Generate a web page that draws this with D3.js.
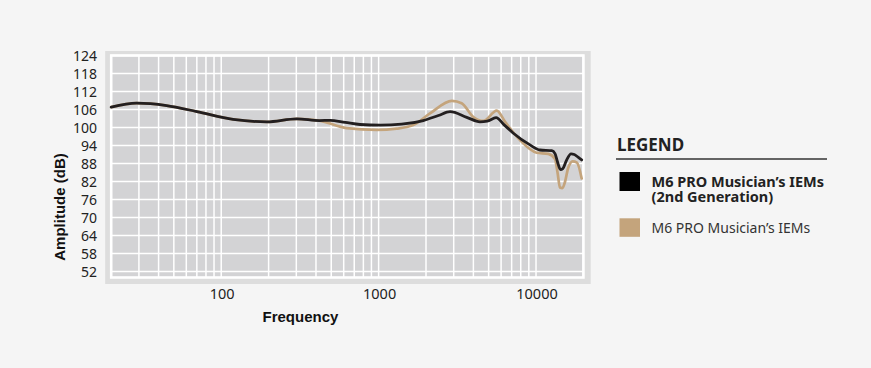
<!DOCTYPE html>
<html>
<head>
<meta charset="utf-8">
<script src="https://cdn.jsdelivr.net/npm/d3@7/dist/d3.min.js"></script>
<style>
  html, body { margin: 0; padding: 0; background: #f5f5f5; }
  svg { display: block; }
</style>
</head>
<body>
<svg id="chart" width="871" height="368"></svg>
<script>
// ---- data ----
const seriesNames = ["M6 PRO Musician\u2019s IEMs (2nd Generation)", "M6 PRO Musician\u2019s IEMs"];
const gen2Freq = [20, 29, 45, 70, 119, 195, 302, 420, 491, 614, 762, 1026, 1400, 1923, 2400, 2846, 3630, 4406, 4900, 5570, 6300, 7180, 9160, 10600, 12600, 13200, 13700, 14300, 14800, 15600, 16700, 17500, 18500, 19500];
const gen2Db   = [106.8, 108.1, 107.3, 105.3, 102.7, 101.9, 102.9, 102.3, 102.4, 101.7, 101.0, 100.8, 101.1, 102.3, 104.0, 105.3, 103.4, 101.9, 102.1, 103.3, 100.8, 98.1, 94.2, 92.5, 92.3, 91.3, 88.5, 86.0, 86.3, 89.0, 91.2, 91.0, 90.1, 89.2];
const origFreq = [20, 29, 45, 70, 119, 195, 302, 420, 627, 973, 1300, 1660, 2120, 2920, 3370, 3980, 4630, 5630, 6360, 7910, 10090, 11970, 13200, 13700, 14200, 14700, 15300, 16000, 17100, 18200, 19500];
const origDb   = [106.8, 108.1, 107.3, 105.3, 102.7, 101.9, 102.9, 102.3, 99.8, 99.2, 99.6, 100.8, 104.7, 108.9, 108.1, 103.6, 102.2, 105.6, 101.9, 95.8, 91.6, 91.2, 89.5, 85.0, 80.0, 79.8, 82.0, 86.5, 88.7, 88.3, 83.0];
const yTicks = [52, 58, 64, 70, 76, 82, 88, 94, 100, 106, 112, 118, 124];
const xTickLabels = [100, 1000, 10000];
const xGrid = [20, 30, 40, 50, 60, 70, 80, 90, 100, 200, 300, 400, 500, 600, 700, 800, 900, 1000, 2000, 3000, 4000, 5000, 6000, 7000, 8000, 9000, 10000, 20000];

// ---- layout ----
const svg = d3.select("#chart");
const x = d3.scaleLog().domain([20, 20000]).range([111.2, 583.4]);
const y = d3.scaleLinear().domain([50, 124]).range([277.5, 55.5]);

const frameColor = "#dddddd";
const plotColor = "#d3d3d5";

// outer frame
svg.append("rect")
  .attr("x", x(20) - 6).attr("y", y(124) - 4.5)
  .attr("width", x(20000) - x(20) + 13.3)
  .attr("height", y(50) - y(124) + 11)
  .attr("fill", frameColor);

// plot area
svg.append("rect")
  .attr("x", x(20)).attr("y", y(124))
  .attr("width", x(20000) - x(20))
  .attr("height", y(50) - y(124))
  .attr("fill", plotColor);

// grid
const grid = svg.append("g");
grid.selectAll("line.v").data(xGrid).join("line")
  .attr("x1", d => x(d)).attr("x2", d => x(d))
  .attr("y1", y(124)).attr("y2", y(50))
  .attr("stroke", "#fff").attr("stroke-width", 1.5);
grid.selectAll("line.h").data(yTicks).join("line")
  .attr("x1", x(20)).attr("x2", x(20000))
  .attr("y1", d => y(d)).attr("y2", d => y(d))
  .attr("stroke", "#fff").attr("stroke-width", 1.5);
// white border
svg.append("rect")
  .attr("x", x(20)).attr("y", y(124))
  .attr("width", x(20000) - x(20))
  .attr("height", y(50) - y(124))
  .attr("fill", "none").attr("stroke", "#fff").attr("stroke-width", 2.6);

// y axis labels
const yAxis = d3.axisLeft(y).tickValues(yTicks).tickSize(0).tickPadding(0).tickFormat(d3.format("d"));
const yg = svg.append("g").attr("transform", "translate(97,0)").call(yAxis);
yg.select(".domain").remove();
yg.selectAll("text")
  .attr("font-family", "'Noto Sans', sans-serif")
  .attr("font-size", 14).attr("fill", "#222").attr("dy", "0.36em");

// x axis labels
const xAxis = d3.axisBottom(x).tickValues(xTickLabels).tickSize(0).tickPadding(0).tickFormat(d3.format("d"));
const xg = svg.append("g").attr("transform", "translate(0.5,289)").call(xAxis);
xg.select(".domain").remove();
xg.selectAll("text")
  .attr("font-family", "'Noto Sans', sans-serif")
  .attr("font-size", 14.5).attr("fill", "#222");

// axis titles
svg.append("text")
  .attr("x", 300.4).attr("y", 322)
  .attr("text-anchor", "middle")
  .attr("font-family", "'Liberation Sans', Arial, sans-serif")
  .attr("font-weight", "bold").attr("font-size", 15).attr("fill", "#111")
  .text("Frequency");
svg.append("text")
  .attr("transform", "translate(64.5,207) rotate(-90)")
  .attr("text-anchor", "middle")
  .attr("font-family", "'Liberation Sans', Arial, sans-serif")
  .attr("font-weight", "bold").attr("font-size", 15).attr("fill", "#111")
  .text("Amplitude (dB)");

// lines
const line = d3.line().x(d => x(d[0])).y(d => y(d[1])).curve(d3.curveMonotoneX);
const origData = d3.zip(origFreq, origDb);
const gen2Data = d3.zip(gen2Freq, gen2Db);
svg.append("path").datum(origData).attr("d", line)
  .attr("fill", "none").attr("stroke", "#c4a47c").attr("stroke-width", 2.7)
  .attr("stroke-linejoin", "round").attr("stroke-linecap", "round");
svg.append("path").datum(gen2Data).attr("d", line)
  .attr("fill", "none").attr("stroke", "#231f20").attr("stroke-width", 2.8)
  .attr("stroke-linejoin", "round").attr("stroke-linecap", "round");

// legend
const lg = svg.append("g");
lg.append("text").attr("x", 617).attr("y", 150.5)
  .attr("font-family", "'Noto Sans', sans-serif").attr("font-weight", "bold")
  .attr("font-size", 17).attr("fill", "#222").text("LEGEND");
lg.append("line").attr("x1", 616).attr("x2", 827).attr("y1", 159).attr("y2", 159)
  .attr("stroke", "#333").attr("stroke-width", 1.5);
lg.append("rect").attr("x", 619.5).attr("y", 172).attr("width", 20.5).attr("height", 19).attr("fill", "#000");
lg.append("rect").attr("x", 619.5).attr("y", 218.3).attr("width", 20.5).attr("height", 18.5).attr("fill", "#c4a47c");
const t1 = lg.append("text").attr("font-family", "'Noto Sans', sans-serif").attr("font-weight", "bold")
  .attr("font-size", 14.5).attr("fill", "#222");
t1.append("tspan").attr("x", 651.5).attr("y", 187).text("M6 PRO Musician\u2019s IEMs");
t1.append("tspan").attr("x", 651.5).attr("y", 201.5).text("(2nd Generation)");
lg.append("text").attr("x", 651.5).attr("y", 233)
  .attr("font-family", "'Noto Sans', sans-serif")
  .attr("font-size", 14).attr("fill", "#333").text("M6 PRO Musician\u2019s IEMs");
</script>
</body>
</html>
